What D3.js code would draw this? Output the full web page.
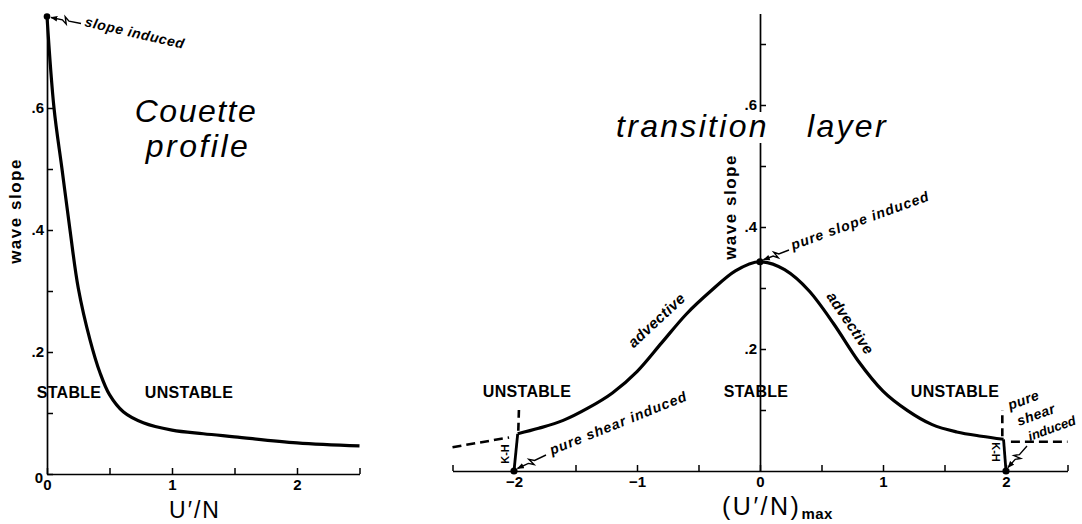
<!DOCTYPE html>
<html>
<head>
<meta charset="utf-8">
<script src="https://cdn.jsdelivr.net/npm/d3@7/dist/d3.min.js"></script>
<style>
  html, body { margin: 0; padding: 0; background: #fff; }
  svg { display: block; font-family: "Liberation Sans", Arial, sans-serif; }
</style>
</head>
<body>
<script>
// ---- Couette profile: wave slope vs U'/N ----
const couetteX = [0, 0.056, 0.12, 0.184, 0.25, 0.344, 0.424, 0.5, 0.61, 0.77, 1.0, 1.25, 1.5, 2.0, 2.5];
const couetteY = [0.75, 0.6, 0.5, 0.4, 0.305, 0.22, 0.166, 0.13, 0.102, 0.084, 0.072, 0.066, 0.061, 0.051, 0.046];

// ---- transition layer: wave slope vs (U'/N)max ----
const layerX = [-1.97, -1.8, -1.6, -1.4, -1.2, -1.0, -0.8, -0.6, -0.4, -0.2, 0, 0.2, 0.4, 0.6, 0.8, 1.0, 1.2, 1.4, 1.6, 1.8, 1.98];
const layerY = [0.061, 0.07, 0.083, 0.103, 0.128, 0.163, 0.21, 0.257, 0.295, 0.328, 0.343, 0.33, 0.295, 0.241, 0.18, 0.131, 0.099, 0.076, 0.064, 0.057, 0.052];

// Kelvin-Helmholtz branches (solid) down to the pure-shear points
const khLeftX = [-1.97, -2.0], khLeftY = [0.061, 0];
const khRightX = [1.98, 2.0], khRightY = [0.052, 0];

// dashed continuations
const dashLeftX = [-2.5, -2.04], dashLeftY = [0.039, 0.055];
const dashLeftUpX = [-1.965, -1.96], dashLeftUpY = [0.066, 0.1];
const dashRightX = [2.04, 2.5], dashRightY = [0.048, 0.048];
const dashRightUpX = [1.97, 1.97], dashRightUpY = [0.057, 0.1];

// marked points
const couettePointX = [0], couettePointY = [0.75];
const layerPointX = [-2, 0, 2], layerPointY = [0, 0.343, 0];

// tick values
const couetteXTicks = [0, 0.5, 1, 1.5, 2, 2.5];
const couetteYTicks = [0, 0.1, 0.2, 0.3, 0.4, 0.5, 0.6];
const layerXTicks = [-2.5, -2, -1.5, -1, -0.5, 0, 0.5, 1, 1.5, 2, 2.5];
const layerYTicks = [0.1, 0.2, 0.3, 0.4, 0.5, 0.6, 0.7];

const W = 1082, H = 524;
const svg = d3.select("body").append("svg").attr("width", W).attr("height", H);
svg.append("rect").attr("width", W).attr("height", H).attr("fill", "#fff");

const defs = svg.append("defs");
defs.append("marker")
  .attr("id", "ah").attr("viewBox", "0 0 10 10")
  .attr("refX", 9).attr("refY", 5)
  .attr("markerWidth", 7).attr("markerHeight", 7)
  .attr("markerUnits", "userSpaceOnUse")
  .attr("orient", "auto")
  .append("path").attr("d", "M0,1 L10,5 L0,9 Z").attr("fill", "#000");

// scales
const xL = d3.scaleLinear().domain([0, 2.5]).range([47, 359.5]);
const yL = d3.scaleLinear().domain([0, 0.75]).range([474, 16.5]);
const xR = d3.scaleLinear().domain([-2.5, 2.5]).range([452.5, 1067.5]);
const yR = d3.scaleLinear().domain([0, 0.75]).range([471, 13.5]);

const fmtY = v => {
  const k = Math.round(v * 10);
  if (k === 0) return "0";
  return k % 2 === 0 ? "." + k : "";
};
const fmtX = v => Number.isInteger(v) ? (v < 0 ? "\u2212" + Math.abs(v) : String(v)) : "";

function styleAxis(g) {
  g.attr("font-family", "Liberation Sans, Arial, sans-serif")
   .attr("font-size", 15).attr("font-weight", "bold");
  g.select(".domain").attr("stroke", "#000").attr("stroke-width", 1.7);
  g.selectAll(".tick line").attr("stroke", "#000").attr("stroke-width", 1.5);
  g.selectAll(".tick text").attr("fill", "#000");
}

// ---------- left panel axes ----------
svg.append("g")
  .attr("transform", `translate(0,${yL(0)})`)
  .call(d3.axisBottom(xL).tickValues(couetteXTicks).tickFormat(fmtX)
        .tickSizeInner(-6).tickSizeOuter(0).tickPadding(5))
  .call(styleAxis);

svg.append("g")
  .attr("transform", `translate(${xL(0)},0)`)
  .call(d3.axisLeft(yL).tickValues(couetteYTicks).tickFormat(fmtY)
        .tickSizeInner(-6).tickSizeOuter(0).tickPadding(3))
  .call(styleAxis)
  .call(g => g.selectAll(".tick text").filter(d => d === 0).attr("dy", "0.55em").attr("x", -4));

// ---------- right panel axes ----------
svg.append("g")
  .attr("transform", `translate(0,${yR(0)})`)
  .call(d3.axisBottom(xR).tickValues(layerXTicks).tickFormat(fmtX)
        .tickSizeInner(-6).tickSizeOuter(0).tickPadding(5))
  .call(styleAxis);

svg.append("g")
  .attr("transform", `translate(${xR(0)},0)`)
  .call(d3.axisLeft(yR).tickValues(layerYTicks).tickFormat(fmtY)
        .tickSizeInner(-6).tickSizeOuter(0).tickPadding(3))
  .call(styleAxis);

// ---------- curves ----------
const lineL = d3.line().x(d => xL(d[0])).y(d => yL(d[1])).curve(d3.curveCatmullRom.alpha(0.5));
const lineR = d3.line().x(d => xR(d[0])).y(d => yR(d[1])).curve(d3.curveMonotoneX);
const lineRs = d3.line().x(d => xR(d[0])).y(d => yR(d[1]));
const zip = (a, b) => a.map((v, i) => [v, b[i]]);

svg.append("path").datum(zip(couetteX, couetteY))
  .attr("d", lineL).attr("fill", "none").attr("stroke", "#000")
  .attr("stroke-width", 3.2).attr("stroke-linejoin", "round");

svg.append("path").datum(zip(layerX, layerY))
  .attr("d", lineR).attr("fill", "none").attr("stroke", "#000")
  .attr("stroke-width", 3.2).attr("stroke-linejoin", "round");

[[khLeftX, khLeftY], [khRightX, khRightY]].forEach(([xs, ys]) => {
  svg.append("path").datum(zip(xs, ys)).attr("d", lineRs)
    .attr("fill", "none").attr("stroke", "#000").attr("stroke-width", 2.8);
});

[[dashLeftX, dashLeftY, "9,5"], [dashRightX, dashRightY, "9,5"],
 [dashLeftUpX, dashLeftUpY, "8,5"], [dashRightUpX, dashRightUpY, "8,5"]].forEach(([xs, ys, da]) => {
  svg.append("path").datum(zip(xs, ys)).attr("d", lineRs)
    .attr("fill", "none").attr("stroke", "#000").attr("stroke-width", 2.6)
    .attr("stroke-dasharray", da);
});

// points
svg.selectAll("circle.cp").data(zip(couettePointX, couettePointY)).join("circle")
  .attr("cx", d => xL(d[0])).attr("cy", d => yL(d[1])).attr("r", 3.3).attr("fill", "#000");
svg.selectAll("circle.lp").data(zip(layerPointX, layerPointY)).join("circle")
  .attr("cx", d => xR(d[0])).attr("cy", d => yR(d[1])).attr("r", 3.6).attr("fill", "#000");

// ---------- zig-zag leader arrows ----------
function zigArrow(sx, sy, ex, ey) {
  const dx = ex - sx, dy = ey - sy, len = Math.hypot(dx, dy);
  const px = -dy / len, py = dx / len;
  const at = (t, o) => [sx + dx * t + px * o, sy + dy * t + py * o];
  const pts = [[sx, sy], at(0.4, 0), at(0.55, 3.5), at(0.47, -3.5), at(0.62, 0), [ex, ey]];
  svg.append("path").attr("d", d3.line()(pts))
    .attr("fill", "none").attr("stroke", "#000").attr("stroke-width", 1.4)
    .attr("marker-end", "url(#ah)");
}
zigArrow(81, 23.5, xL(0) + 4, yL(0.75) + 1);
zigArrow(789, 250, xR(0) + 3.5, yR(0.343) - 2);
zigArrow(546, 455, xR(-2) + 3.5, yR(0) - 2.5);
zigArrow(1027, 446, xR(2) + 2, yR(0) - 3.5);

// ---------- text ----------
function label(x, y, txt, opts = {}) {
  const t = svg.append("text")
    .attr("transform", `translate(${x},${y}) rotate(${opts.rot || 0})`)
    .attr("text-anchor", opts.anchor || "middle")
    .attr("font-size", opts.size || 14)
    .attr("font-weight", opts.weight || "bold")
    .attr("font-style", opts.italic ? "italic" : "normal")
    .attr("letter-spacing", opts.ls || 0)
    .attr("fill", "#000")
    .text(txt);
  return t;
}

// break in the right axis behind the title
svg.append("rect").attr("x", xR(0) - 4).attr("y", 112).attr("width", 8).attr("height", 31).attr("fill", "#fff");

// titles
label(196, 122, "Couette", { size: 32, weight: "normal", italic: true, ls: 1.5 });
label(198, 157, "profile", { size: 32, weight: "normal", italic: true, ls: 2.5 });
label(616, 137, "transition", { size: 32, weight: "normal", italic: true, ls: 2.3, anchor: "start" });
label(807, 137, "layer", { size: 32, weight: "normal", italic: true, ls: 2.3, anchor: "start" });

// axis titles
label(21, 211, "wave slope", { size: 17, rot: -90, ls: 1.5 });
label(736, 207, "wave slope", { size: 17, rot: -90, ls: 1.5 });
label(195, 518, "U\u2032/N", { size: 23, weight: "normal", ls: 2 });
const xt = label(722, 515, "(U\u2032/N)", { size: 25, weight: "normal", ls: 2.5, anchor: "start" });
xt.append("tspan").attr("font-size", 15).attr("font-weight", "bold").attr("dy", 4).attr("letter-spacing", 0.5).text("max");

// stability regions
label(69, 398, "STABLE", { size: 16, ls: 0.3 });
label(189, 398, "UNSTABLE", { size: 16, ls: 0.3 });
label(527, 397, "UNSTABLE", { size: 16, ls: 0.3 });
label(756, 397, "STABLE", { size: 16, ls: 0.3 });
label(955, 397, "UNSTABLE", { size: 16, ls: 0.3 });

// annotations
label(84, 26, "slope induced", { size: 14, italic: true, rot: 13, ls: 0.6, anchor: "start" });
label(793, 250, "pure slope induced", { size: 14, italic: true, rot: -20, ls: 1, anchor: "start" });
label(552, 455, "pure shear induced", { size: 14, italic: true, rot: -22, ls: 1, anchor: "start" });
label(1010, 410, "pure", { size: 14, italic: true, rot: -20, ls: 0.5, anchor: "start" });
label(1019, 426, "shear", { size: 14, italic: true, rot: -20, ls: 0.5, anchor: "start" });
label(1030, 441, "induced", { size: 13, italic: true, rot: -20, ls: 0, anchor: "start" });
label(660, 324, "advective", { size: 15, italic: true, rot: -43, ls: 0.4 });
label(846, 326, "advective", { size: 15, italic: true, rot: 56, ls: 0.4 });
label(509, 454, "K-H", { size: 11, rot: -90 });
label(992, 452, "K-H", { size: 11, rot: 90 });
</script>
</body>
</html>
